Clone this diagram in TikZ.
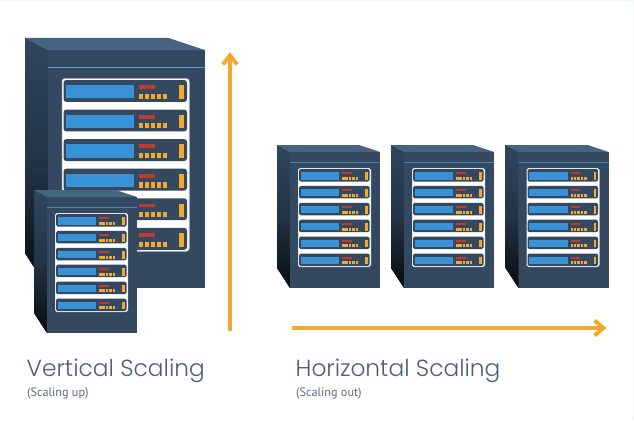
\documentclass[tikz,border=0pt]{standalone}
\usepackage{fontspec}
\setmainfont{Poppins Light}
\newfontfamily\subfont{PT Sans}
\definecolor{frontc}{HTML}{34495F}
\definecolor{topc}{HTML}{45647F}
\definecolor{sidetop}{HTML}{2E465E}
\definecolor{sidebot}{HTML}{070B10}
\definecolor{linec}{HTML}{4AA8D8}
\definecolor{screenc}{HTML}{3A92D6}
\definecolor{redc}{HTML}{BE3B32}
\definecolor{amber}{HTML}{F2A92E}
\definecolor{textc}{HTML}{4D6075}
\definecolor{subc}{HTML}{5A6B7E}
\definecolor{stripc}{HTML}{EEF6FA}
\tikzset{
  front/.style={fill=frontc,draw=none},
  topface/.style={fill=topc,draw=none},
  sideface/.style={top color=sidetop,bottom color=sidebot,middle color=sidetop!70!sidebot,draw=none},
  bigarrow/.style={draw=amber,line width=3.4pt,line cap=butt},
  arrowhead/.style={draw=amber,line width=4pt,line cap=butt,line join=miter},
  headline/.style={font=\fontsize{23.3}{27}\selectfont,text=textc,anchor=base west,inner sep=0pt},
  subline/.style={font=\subfont\fontsize{12.2}{14}\selectfont,text=subc,anchor=base west,inner sep=0pt}
}
\newcommand{\rackunit}[2]{% y offset of the unit, scale
  \fill[frontc,rounded corners=#2*1.6pt] (22,#1) rectangle (92.6,#1+12.5);
  \fill[screenc] (23.5,#1+3) rectangle (62,#1+10.5);
  \fill[redc] (65,#1+3) rectangle (74.5,#1+5.2);
  \foreach \k in {0,1,2,3,4}{
    \fill[amber] (65+\k*3.4,#1+7.8) rectangle (67.5+\k*3.4,#1+10.8);
  }
  \fill[amber] (88.2,#1+3) rectangle (90.6,#1+10.8);
}
% #1 #2 left and top of the top face, #3 scale, #4 tint of the blue line
\newcommand{\serverbox}[4]{
  \begin{scope}[shift={(#1,#2)},scale=#3]
    \fill[sideface] (0,0) -- (13,7) -- (13,143) -- (0,123) -- cycle;
    \fill[front] (13,7) rectangle (103,143);
    \fill[topface] (0,0) -- (82,0) -- (103,7) -- (13,7) -- cycle;
    \draw[linec!#4!frontc,line width=#3*0.7pt] (13,17) -- (103,17);
    \fill[white!80!frontc,rounded corners=#3*1.8pt] (21,23) rectangle (94,122);
    \fill[white,rounded corners=#3*1.4pt] (21.5,23.5) rectangle (93.5,121.5);
    \foreach \u in {0,1,2,3,4,5}{
      \rackunit{24+\u*16.9}{#3}
    }
  \end{scope}
}
\begin{document}
\begin{tikzpicture}[x=1pt,y=-1pt]
\useasboundingbox (0,0) rectangle (634,420);
\fill[white] (0,0) rectangle (634,420);
\fill[stripc] (0,0) rectangle (634,1.5);
\fill[stripc] (632.5,0) rectangle (634,420);
\serverbox{25}{38}{1.75}{100}
\serverbox{34}{190}{1}{65}
\serverbox{277}{145}{1}{65}
\serverbox{391}{145}{1}{65}
\serverbox{505.5}{145}{1}{65}
% arrows
\coordinate (vs) at (230,331);
\coordinate (ve) at (230,55.5);
\coordinate (hs) at (292,328);
\coordinate (he) at (603.5,328);
\draw[bigarrow] (vs) -- (ve);
\draw[arrowhead] ([shift={(-7,9)}]ve) -- (ve) -- ([shift={(7,9)}]ve);
\draw[bigarrow] (hs) -- (he);
\draw[arrowhead] ([shift={(-9,-7.5)}]he) -- (he) -- ([shift={(-9,7.5)}]he);
% labels
\node[headline] (vt) at (26.5,376) {Vertical Scaling};
\node[headline] (ht) at (295.5,376) {Horizontal Scaling};
\node[subline] (vu) at (27,396) {(Scaling up)};
\node[subline] (hu) at (296,396) {(Scaling out)};
\end{tikzpicture}
\end{document}
